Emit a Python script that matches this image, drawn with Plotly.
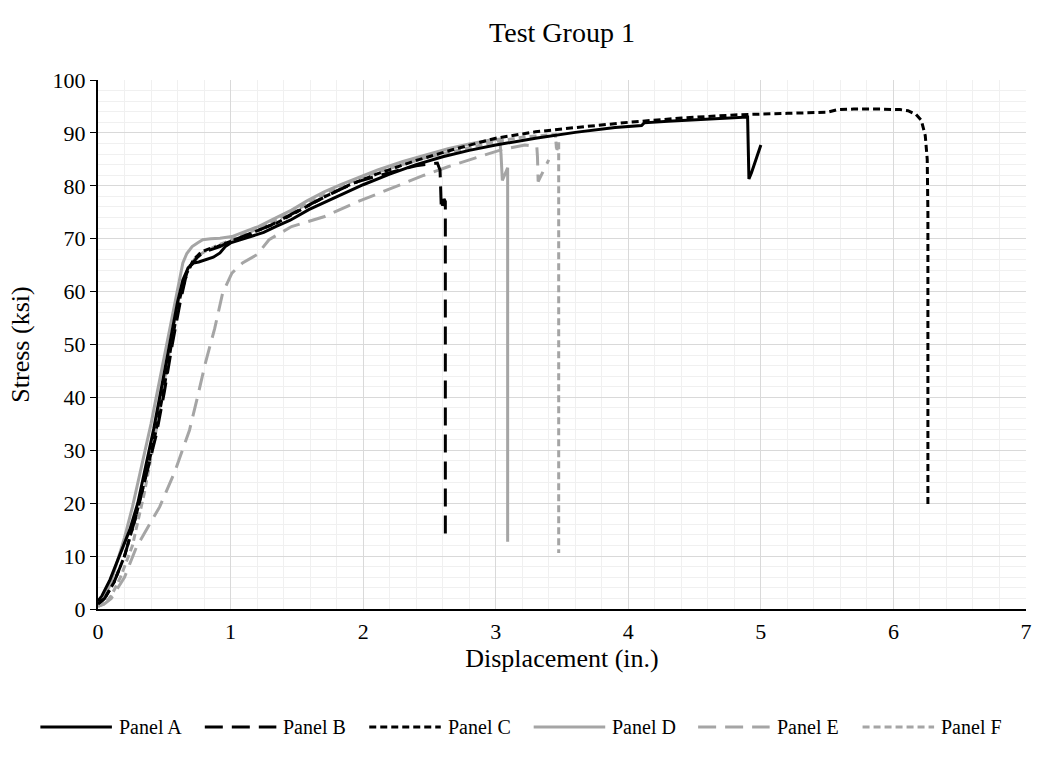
import plotly.graph_objects as go

# ---------------- data ----------------
a_x = [0, 0.03, 0.09, 0.16, 0.24, 0.3, 0.365, 0.42, 0.465, 0.52, 0.56, 0.6, 0.64, 0.68, 0.72, 0.76, 0.81,
       0.87, 0.92, 0.96, 1.0, 1.08, 1.16, 1.25, 1.34, 1.45, 1.59, 1.7, 1.84, 2.0, 2.2, 2.4, 2.6, 2.8, 3.0,
       3.3, 3.6, 3.9, 4.1, 4.12, 4.3, 4.5, 4.7, 4.9, 4.91, 4.93, 4.97, 5.0]
a_y = [1.5, 2.5, 5.5, 10, 15, 20, 27.6, 34, 40, 47, 52.7, 58, 62.2, 64.5, 65.4, 65.6, 66, 66.5, 67.3, 68.5,
       69.2, 69.8, 70.4, 71.2, 72.3, 73.5, 75.5, 76.8, 78.3, 80.2, 82.2, 84, 85.5, 86.7, 87.7, 89.0, 90.1,
       91.0, 91.4, 91.9, 92.2, 92.5, 92.8, 93.0, 81.3, 82.5, 85.5, 87.7]

b_x = [0, 0.05, 0.12, 0.2, 0.28, 0.36, 0.44, 0.5, 0.56, 0.62, 0.66, 0.7, 0.75, 0.8, 0.86, 0.92, 0.98,
       1.05, 1.15, 1.3, 1.45, 1.6, 1.8, 1.96, 2.2, 2.4, 2.56, 2.58, 2.59, 2.61, 2.62, 2.62]
b_y = [1, 2, 5, 10, 17, 25, 33, 41, 50, 58, 62.5, 65, 66.5, 67.5, 68, 68.5, 69.3, 70, 71, 72.5, 74.5,
       76.5, 79, 80.8, 82.5, 83.8, 84.3, 83, 75.5, 77.5, 77, 13]

c_x = [0, 0.05, 0.12, 0.2, 0.28, 0.36, 0.44, 0.5, 0.56, 0.62, 0.67, 0.72, 0.78, 0.85, 0.9, 0.95, 1.0,
       1.1, 1.2, 1.35, 1.5, 1.7, 1.9, 2.1, 2.4, 2.7, 3.0, 3.3, 3.6, 4.0, 4.4, 4.8, 5.2, 5.5, 5.58, 5.7,
       5.9, 6.05, 6.11, 6.17, 6.21, 6.24, 6.255, 6.26, 6.26]
c_y = [1, 2, 5, 10, 17, 25, 34, 42, 51, 59, 63.5, 66, 67.5, 68.2, 68.5, 69, 69.5, 70.3, 71.5, 73, 75,
       77.8, 80.2, 82.2, 84.8, 87.0, 89.0, 90.2, 91.0, 92.0, 92.8, 93.4, 93.7, 93.9, 94.4, 94.5, 94.5,
       94.4, 94.2, 93.5, 92.4, 89.5, 85, 75, 19.5]

d_x = [0, 0.04, 0.09, 0.14, 0.2, 0.26, 0.31, 0.365, 0.4, 0.44, 0.49, 0.54, 0.58, 0.61, 0.64, 0.67, 0.71,
       0.75, 0.79, 0.85, 0.92, 1.01, 1.1, 1.21, 1.33, 1.46, 1.58, 1.71, 1.84, 1.96, 2.11, 2.3, 2.5, 2.64,
       2.8, 2.95, 3.03, 3.04, 3.05, 3.09, 3.09]
d_y = [0.5, 1.7, 4.5, 8.7, 13.5, 19.3, 25, 30.7, 35, 40.1, 46.5, 52.7, 58, 62, 65.4, 67.2, 68.5, 69.2,
       69.8, 70, 70.1, 70.4, 71.2, 72.3, 73.8, 75.4, 77.2, 78.9, 80.3, 81.5, 83, 84.6, 86.0, 87.0, 87.9,
       88.6, 88.8, 86, 81, 83.4, 12.7]

e_x = [0, 0.05, 0.1, 0.2, 0.29, 0.38, 0.465, 0.58, 0.69, 0.75, 0.81, 0.88, 0.94, 1.01, 1.09, 1.2, 1.29,
       1.46, 1.71, 1.96, 2.14, 2.26, 2.46, 2.64, 2.84, 3.04, 3.22, 3.31, 3.315, 3.32, 3.40]
e_y = [0.5, 1, 2, 6, 11.7, 15.5, 19.3, 26, 33.8, 40, 46.5, 53, 59.7, 63.5, 65.4, 67, 69.8, 72.3, 74.2,
       77, 78.8, 80.1, 82, 83.6, 85.2, 86.8, 87.7, 87.4, 85.5, 80.8, 84.9]

f_x = [0, 0.05, 0.1, 0.17, 0.26, 0.35, 0.44, 0.5, 0.56, 0.62, 0.68, 0.74, 0.8, 0.88, 0.96, 1.05, 1.15,
       1.3, 1.5, 1.7, 1.96, 2.2, 2.5, 2.8, 3.01, 3.2, 3.43, 3.45, 3.46, 3.475, 3.475]
f_y = [0.5, 1, 2.5, 6, 12, 22, 34, 43, 52, 60, 64.5, 66.5, 67.5, 68.5, 69.3, 70.2, 71.3, 73, 75.5, 78.2,
       81.4, 83.3, 85.5, 87.2, 88.4, 89.2, 89.6, 89.7, 86.5, 88.5, 10.6]

names = ["Panel A", "Panel B", "Panel C", "Panel D", "Panel E", "Panel F"]

BLACK = "#000000"
GRAY = "#a5a5a5"

series = [
    (a_x, a_y, BLACK, "solid"),
    (b_x, b_y, BLACK, "18px,9px"),
    (c_x, c_y, BLACK, "7px,4px"),
    (d_x, d_y, GRAY, "solid"),
    (e_x, e_y, GRAY, "18px,9px"),
    (f_x, f_y, GRAY, "7px,4px"),
]

FONT = "Liberation Serif, Times New Roman, serif"
W, H = 1042, 757
ML, MR, MT, MB = 98, 10, 80, 148
PW, PH = W - ML - MR, H - MT - MB

fig = go.Figure()
# gray first so black sits on top as in the reference
for i in [3, 4, 5, 0, 1, 2]:
    xs, ys, col, dash = series[i]
    fig.add_trace(go.Scatter(x=xs, y=ys, mode="lines", name=names[i], showlegend=False,
                             line=dict(color=col, width=3, dash=dash)))

# legend drawn as shapes + text so the sample lines are as long as the reference's
def px_x(p):
    return (p - ML) / PW

def px_y(p):
    return (H - MB - p) / PH

legend_y = 727
period = 165.5
shapes, annotations = [], []
for i, (xs, ys, col, dash) in enumerate(series):
    x0 = 40 + period * i
    shapes.append(dict(type="line", xref="paper", yref="paper",
                       x0=px_x(x0), x1=px_x(x0 + 72), y0=px_y(legend_y), y1=px_y(legend_y),
                       line=dict(color=col, width=3, dash=dash)))
    annotations.append(dict(text=names[i], xref="paper", yref="paper",
                            x=px_x(x0 + 77), y=px_y(legend_y), xanchor="left", yanchor="middle",
                            showarrow=False, font=dict(size=20, family=FONT, color="black")))

fig.update_layout(
    width=W, height=H,
    paper_bgcolor="white", plot_bgcolor="white",
    margin=dict(l=ML, r=MR, t=MT, b=MB),
    font=dict(family=FONT, color="black", size=20),
    title=dict(text="Test Group 1", x=0.5, xref="paper", y=1 - 32 / H, yref="container",
               xanchor="center", yanchor="middle", font=dict(size=28, family=FONT, color="black")),
    showlegend=False,
    shapes=shapes,
    annotations=annotations,
)

fig.update_xaxes(
    range=[0, 7], dtick=1, tick0=0,
    showgrid=True, gridcolor="#d9d9d9", gridwidth=1,
    minor=dict(dtick=0.2, showgrid=True, gridcolor="#f0f0f0", gridwidth=1),
    showline=True, linecolor="black", linewidth=2,
    ticks="outside", ticklen=2, tickcolor="rgba(0,0,0,0)", zeroline=False,
    tickfont=dict(size=22, family=FONT),
    title=dict(text="Displacement (in.)", font=dict(size=26, family=FONT), standoff=0),
)
fig.update_yaxes(
    range=[0, 100], dtick=10, tick0=0,
    showgrid=True, gridcolor="#d9d9d9", gridwidth=1,
    minor=dict(dtick=2, showgrid=True, gridcolor="#f0f0f0", gridwidth=1),
    showline=True, linecolor="black", linewidth=2,
    ticks="outside", ticklen=6, tickcolor="black",
    zeroline=False,
    tickfont=dict(size=22, family=FONT),
    title=dict(text="Stress (ksi)", font=dict(size=26, family=FONT), standoff=15),
)

fig.write_html("out.html")
